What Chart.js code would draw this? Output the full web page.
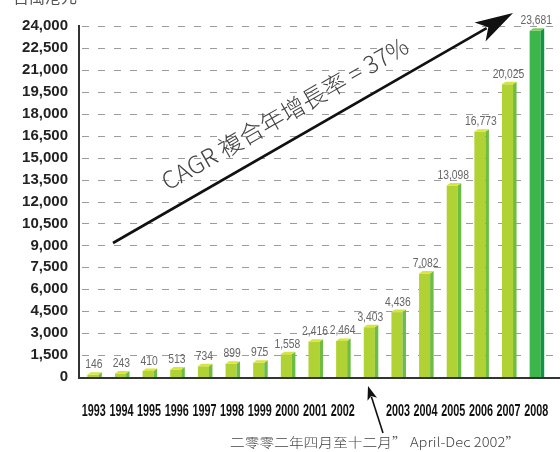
<!DOCTYPE html>
<html>
<head>
<meta charset="utf-8">
<script src="https://cdn.jsdelivr.net/npm/chart.js@4.4.1/dist/chart.umd.min.js"></script>
<style>
  html, body { margin: 0; padding: 0; background: #fff; }
  #wrap { width: 560px; height: 452px; position: relative; }
</style>
</head>
<body>
<div id="wrap"><canvas id="grafica"></canvas></div>
<script>
// Datos del grafico
const anios = ['1993', '1994', '1995', '1996', '1997', '1998', '1999', '2000', '2001', '2002', '',
               '2003', '2004', '2005', '2006', '2007', '2008'];
const valores = [146, 243, 410, 513, 734, 899, 975, 1558, 2416, 2464, 3403,
                 4436, 7082, 13098, 16773, 20025, 23681];
const ticksY = [0, 1500, 3000, 4500, 6000, 7500, 9000, 10500, 12000, 13500, 15000,
                16500, 18000, 19500, 21000, 22500, 24000];

const unidad = '百萬港元';
const textoCagr = 'CAGR 複合年增長率 = 37%';
const nota = '二零零二年四月至十二月” April-Dec 2002”';

const frente = valores.map((v, i) => i === valores.length - 1 ? '#3cb54a' : '#b1d235');
const lado = valores.map((v, i) => i === valores.length - 1 ? '#0f9545' : '#6dbd45');
const arriba = valores.map((v, i) => i === valores.length - 1 ? '#7ccc5e' : '#d9e43c');

function flecha(ctx, x1, y1, x2, y2, largo, ancho, grosor) {
    const ang = Math.atan2(y2 - y1, x2 - x1);
    const bx = x2 - Math.cos(ang) * largo * 0.8;
    const by = y2 - Math.sin(ang) * largo * 0.8;
    ctx.save();
    ctx.strokeStyle = '#111';
    ctx.fillStyle = '#111';
    ctx.lineWidth = grosor;
    ctx.beginPath();
    ctx.moveTo(x1, y1);
    ctx.lineTo(bx, by);
    ctx.stroke();
    ctx.translate(x2, y2);
    ctx.rotate(ang);
    ctx.beginPath();
    ctx.moveTo(0, 0);
    ctx.lineTo(-largo, -ancho);
    ctx.lineTo(-largo * 0.75, 0);
    ctx.lineTo(-largo, ancho);
    ctx.closePath();
    ctx.fill();
    ctx.restore();
}

// texto estrecho: se ajusta en horizontal a un ancho dado
function textoEstrecho(ctx, txt, x, y, anchoFinal) {
    const w = ctx.measureText(txt).width;
    ctx.save();
    ctx.translate(x, y);
    ctx.scale(anchoFinal / w, 1);
    ctx.fillText(txt, 0, 0);
    ctx.restore();
}

const extras = {
    id: 'extras',
    beforeDatasetsDraw(chart) {
        const { ctx, chartArea, scales } = chart;
        // lineas punteadas hasta el borde
        ctx.save();
        ctx.strokeStyle = '#9c9c9c';
        ctx.lineWidth = 1.2;
        ctx.setLineDash([7, 9]);
        ticksY.forEach(t => {
            if (t === 0) return;
            const y = Math.round(scales.y.getPixelForValue(t)) + 0.5;
            ctx.beginPath();
            ctx.moveTo(chartArea.left + 3, y);
            ctx.lineTo(chart.width, y);
            ctx.stroke();
        });
        ctx.restore();
    },
    afterDatasetsDraw(chart) {
        const { ctx, chartArea, scales } = chart;
        const meta = chart.getDatasetMeta(0);
        const d = 3.5, dy = 2.5;
        meta.data.forEach((bar, i) => {
            const w = bar.width;
            const l = bar.x - w / 2, r = bar.x + w / 2;
            const top = bar.y, base = bar.base;
            ctx.fillStyle = lado[i];
            ctx.beginPath();
            ctx.moveTo(r, top);
            ctx.lineTo(r + d, top - dy);
            ctx.lineTo(r + d, base);
            ctx.lineTo(r, base);
            ctx.closePath();
            ctx.fill();
            ctx.fillStyle = arriba[i];
            ctx.beginPath();
            ctx.moveTo(l, top);
            ctx.lineTo(l + d, top - dy);
            ctx.lineTo(r + d, top - dy);
            ctx.lineTo(r, top);
            ctx.closePath();
            ctx.fill();
            // valores sobre las barras
            ctx.fillStyle = '#666';
            ctx.font = '12px "Liberation Sans", Arial, sans-serif';
            ctx.textAlign = 'center';
            ctx.textBaseline = 'alphabetic';
            const txt = valores[i].toLocaleString('en-US');
            textoEstrecho(ctx, txt, bar.x + 1, top - dy - 4, ctx.measureText(txt).width * 0.86);
        });

        // anios bajo el eje (fuente muy condensada)
        ctx.save();
        ctx.fillStyle = '#111';
        ctx.font = 'bold 16px "Liberation Sans", Arial, sans-serif';
        ctx.textAlign = 'center';
        ctx.textBaseline = 'middle';
        anios.forEach((a, i) => {
            if (!a) return;
            textoEstrecho(ctx, a, scales.x.getPixelForValue(i) + 1, 412, 24);
        });
        ctx.restore();

        // eje x hasta el borde
        ctx.save();
        ctx.strokeStyle = '#333';
        ctx.lineWidth = 2;
        ctx.beginPath();
        ctx.moveTo(chartArea.left - 1, chartArea.bottom + 1);
        ctx.lineTo(chart.width, chartArea.bottom + 1);
        ctx.stroke();
        ctx.restore();

        // unidad arriba a la izquierda (cortada)
        ctx.save();
        ctx.fillStyle = '#555';
        ctx.font = '16px "Noto Sans CJK TC", sans-serif';
        ctx.textAlign = 'left';
        ctx.textBaseline = 'alphabetic';
        ctx.fillText(unidad, 13, 3);
        ctx.restore();

        // flecha CAGR
        flecha(ctx, 113, 243, 513, 13, 38, 11, 2.6);
        ctx.save();
        ctx.translate(168, 191);
        ctx.rotate(Math.atan2(13 - 243, 513 - 113));
        ctx.fillStyle = '#444';
        ctx.font = '300 20px "Noto Sans CJK TC", sans-serif';
        const ancho = ctx.measureText(textoCagr).width;
        ctx.scale(280 / ancho, 280 / ancho);
        ctx.textAlign = 'left';
        ctx.textBaseline = 'alphabetic';
        ctx.fillText(textoCagr, 0, 0);
        ctx.restore();

        // flecha pequena y nota
        flecha(ctx, 383, 433, 368, 386, 14, 5, 1.6);
        ctx.save();
        ctx.fillStyle = '#444';
        ctx.font = '300 13px "Noto Sans CJK TC", sans-serif';
        ctx.textAlign = 'left';
        ctx.textBaseline = 'middle';
        textoEstrecho(ctx, nota, 230, 442, 290);
        ctx.restore();
    }
};

const ctx = document.getElementById('grafica');
new Chart(ctx, {
    type: 'bar',
    data: {
        labels: anios,
        datasets: [{
            data: valores,
            backgroundColor: frente,
            borderWidth: 0,
            barPercentage: 0.8,
            categoryPercentage: 0.5
        }]
    },
    options: {
        responsive: true,
        maintainAspectRatio: false,
        animation: false,
        layout: {
            padding: { top: 26, right: 11, left: 0, bottom: 0 }
        },
        scales: {
            x: {
                grid: { display: false, drawTicks: false },
                border: { display: false },
                ticks: { display: false },
                afterFit(scale) {
                    scale.height = 75;
                    scale.paddingLeft = 0;
                    scale.paddingRight = 0;
                }
            },
            y: {
                min: 0,
                max: 24000,
                grid: { display: false, drawTicks: false },
                border: { display: true, color: '#333', width: 2 },
                ticks: {
                    stepSize: 1500,
                    autoSkip: false,
                    color: '#222',
                    padding: 11,
                    font: { family: '"Liberation Sans", Arial, sans-serif', size: 15, weight: 'bold' },
                    callback: v => v.toLocaleString('en-US')
                },
                afterFit(scale) { scale.width = 79; }
            }
        },
        plugins: {
            legend: { display: false },
            tooltip: { enabled: false }
        }
    },
    plugins: [extras]
});
</script>
</body>
</html>
